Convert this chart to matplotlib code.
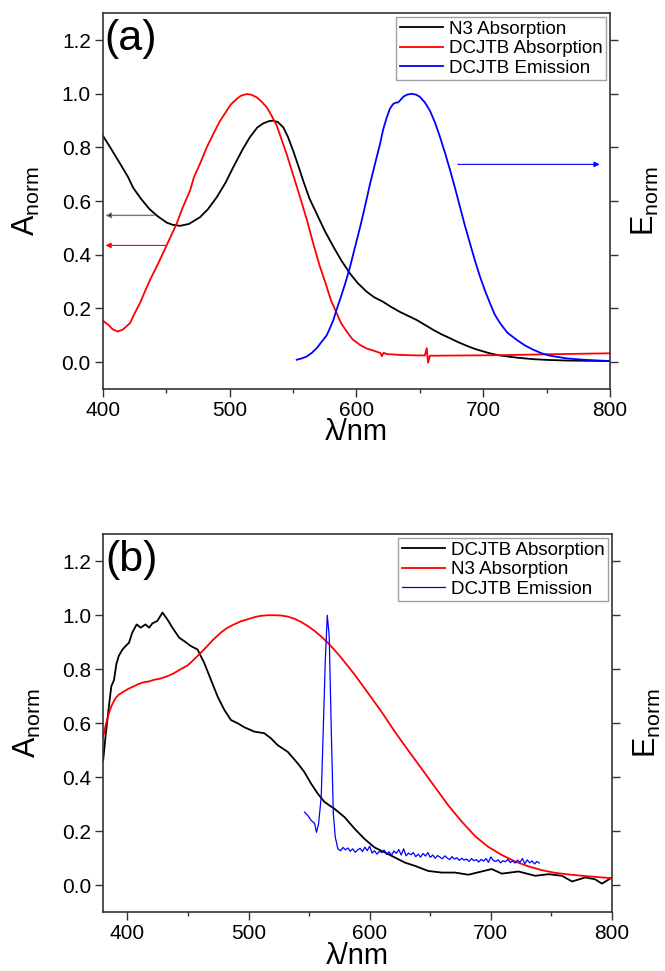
import numpy as np
import matplotlib
matplotlib.use("Agg")
import matplotlib.pyplot as plt
from matplotlib.ticker import MultipleLocator

plt.rcParams['font.family'] = ['Liberation Sans', 'DejaVu Sans']
plt.rcParams['mathtext.fontset'] = 'custom'
plt.rcParams['mathtext.rm'] = 'Liberation Sans'
plt.rcParams['mathtext.default'] = 'regular'

# ---- panel (a) data
a_n3_wl = [400, 406, 413.7, 420, 424, 430, 437, 443, 450.5, 455, 461, 468, 476.7, 483, 490, 497,
           503, 510, 516, 522, 526.7, 531, 534, 538, 542.4, 546, 550, 554, 558, 563, 568.7, 575,
           581.9, 588, 595, 601, 608, 614, 621, 627, 634, 641, 647.6, 654, 660.7, 667, 673.9,
           680, 687, 693, 700, 706, 713, 726, 739.5, 752, 765.8, 800]
a_n3_abs = [0.845, 0.80, 0.74, 0.69, 0.65, 0.61, 0.57, 0.545, 0.52, 0.512, 0.508, 0.515, 0.54,
            0.57, 0.615, 0.67, 0.727, 0.79, 0.838, 0.875, 0.89, 0.898, 0.90, 0.895, 0.875, 0.84,
            0.79, 0.735, 0.677, 0.61, 0.553, 0.49, 0.43, 0.38, 0.33, 0.295, 0.263, 0.242, 0.225,
            0.207, 0.188, 0.172, 0.157, 0.139, 0.12, 0.104, 0.089, 0.075, 0.061, 0.05, 0.040,
            0.032, 0.025, 0.017, 0.011, 0.008, 0.006, 0.004]

a_dcj_wl = [400, 404.5, 408, 412, 416, 421.5, 425, 429.4, 433, 437.3, 444, 450.5, 458.3, 463,
            468.9, 472, 476.7, 482, 487.3, 492, 497.8, 501, 505.7, 509, 513.5, 517, 521.4, 525,
            529.3, 533, 537.2, 541, 545, 550, 555.6, 561, 566, 571, 576.6, 580, 584.5, 588,
            592.4, 597, 602.9, 608, 613.4, 619, 620, 621.5, 624, 634.4, 647.6, 654, 655.5, 656.5,
            658, 660.7, 713, 760, 800]
a_dcj_abs = [0.155, 0.139, 0.122, 0.114, 0.122, 0.145, 0.18, 0.22, 0.26, 0.306, 0.37, 0.436,
             0.516, 0.575, 0.64, 0.69, 0.739, 0.80, 0.851, 0.895, 0.937, 0.96, 0.981, 0.993,
             0.999, 0.997, 0.987, 0.972, 0.95, 0.92, 0.882, 0.83, 0.776, 0.70, 0.615, 0.53,
             0.442, 0.36, 0.281, 0.23, 0.182, 0.145, 0.114, 0.085, 0.064, 0.051, 0.043, 0.034,
             0.022, 0.035, 0.030, 0.027, 0.025, 0.025, 0.052, -0.002, 0.024, 0.024, 0.026, 0.030,
             0.033]

a_em_wl = [553, 557, 560.8, 565, 568.7, 572, 576.6, 579, 581.9, 584, 587, 591, 595, 599, 603,
           607, 610.8, 615, 618.7, 621, 624, 626.5, 629, 631, 633, 635, 637, 640, 643.6, 647,
           650, 654, 658, 662, 666, 670, 673.9, 678, 681.7, 685.5, 689.6, 693.5, 697.5, 701.5,
           705.4, 709, 713.3, 719, 726.4, 733, 739.6, 746, 752.7, 765.8, 778.9, 800]
a_em = [0.009, 0.014, 0.021, 0.035, 0.052, 0.072, 0.10, 0.125, 0.157, 0.19, 0.232, 0.29, 0.355,
        0.43, 0.504, 0.585, 0.665, 0.745, 0.814, 0.865, 0.913, 0.945, 0.962, 0.967, 0.968, 0.978,
        0.989, 0.997, 1.0, 0.997, 0.989, 0.968, 0.937, 0.893, 0.838, 0.778, 0.715, 0.645, 0.578,
        0.51, 0.442, 0.378, 0.318, 0.265, 0.219, 0.178, 0.145, 0.11, 0.083, 0.062, 0.046, 0.033,
        0.024, 0.014, 0.009, 0.004]

# ---- panel (b) data
b_dcj_wl = [380.1, 382, 384.8, 386.8, 389, 391, 393, 396, 398.6, 401.4, 404, 407.7, 411, 415,
            418, 420.7, 424.8, 429, 433, 437.2, 442.8, 447, 452.4, 458, 463.4, 469, 474.5, 480,
            485.5, 491, 496.6, 504.8, 513, 518.6, 524, 532.4, 540.7, 546, 551.7, 557.2, 562.8,
            571, 579.3, 587.6, 595.9, 604, 612.4, 620.7, 629, 637.2, 648.3, 659.3, 670.3, 681.4,
            692.4, 700.7, 709, 722.8, 736.6, 747.6, 758.6, 767, 778, 786, 791.7, 800]
b_dcj_abs = [0.463, 0.55, 0.662, 0.737, 0.76, 0.82, 0.85, 0.873, 0.886, 0.898, 0.935, 0.966,
             0.954, 0.966, 0.954, 0.97, 0.979, 1.01, 0.985, 0.954, 0.917, 0.904, 0.886, 0.873,
             0.824, 0.761, 0.699, 0.65, 0.612, 0.60, 0.585, 0.569, 0.563, 0.544, 0.519, 0.494,
             0.451, 0.42, 0.376, 0.339, 0.308, 0.283, 0.252, 0.209, 0.171, 0.14, 0.122, 0.103,
             0.084, 0.072, 0.053, 0.047, 0.047, 0.039, 0.051, 0.06, 0.043, 0.051, 0.035, 0.041,
             0.035, 0.014, 0.029, 0.022, 0.006, 0.029]

b_n3_wl = [380.1, 382, 384.8, 387, 390.3, 393, 397.2, 401, 405.5, 409, 413.8, 418, 422, 427, 433,
           438, 444, 450, 455, 460, 466, 471, 477, 482, 488, 494, 499.3, 505, 510.3, 516, 521.4,
           527, 532.4, 538, 543.4, 549, 554.5, 560, 565.5, 571, 576.6, 587.6, 598.6, 609.7,
           620.7, 631.7, 642.8, 653.8, 664.8, 675.9, 686.9, 697.9, 709, 720, 731, 742, 753, 764,
           778, 791.7, 800]
b_n3_abs = [0.55, 0.59, 0.637, 0.665, 0.693, 0.706, 0.718, 0.728, 0.737, 0.745, 0.752, 0.755,
            0.761, 0.765, 0.774, 0.784, 0.80, 0.815, 0.836, 0.858, 0.886, 0.91, 0.935, 0.952,
            0.966, 0.978, 0.985, 0.993, 0.998, 1.0, 1.0, 0.999, 0.995, 0.987, 0.975, 0.96, 0.942,
            0.921, 0.898, 0.871, 0.842, 0.78, 0.712, 0.643, 0.569, 0.50, 0.432, 0.364, 0.296,
            0.236, 0.182, 0.142, 0.112, 0.088, 0.07, 0.056, 0.046, 0.04, 0.034, 0.029, 0.026]

b_em_wl = [546.2, 549, 551.7, 554.5, 556.1, 557.8, 560, 561.7, 563.3, 565, 566.6, 568.3, 570,
           571.6, 573.8, 576, 578, 580, 582, 584, 586, 588, 590, 592, 594, 596, 598, 600, 602,
           604, 606, 608, 610, 612, 614, 616, 618, 620, 622, 624, 626, 628, 630, 632, 634, 636,
           638, 640, 642, 644, 646, 648, 650, 652, 654, 656, 658, 660, 662, 664, 666, 668, 670,
           672, 674, 676, 678, 680, 682, 684, 686, 688, 690, 692, 694, 696, 698, 700, 702, 704,
           706, 708, 710, 712, 714, 716, 718, 720, 722, 724, 726, 728, 730, 732, 734, 736, 738, 740]
b_em = [0.271, 0.258, 0.24, 0.23, 0.196, 0.227, 0.327, 0.575, 0.824, 1.0, 0.923, 0.575, 0.265,
        0.178, 0.134, 0.128, 0.140, 0.131, 0.138, 0.126, 0.135, 0.122, 0.130, 0.137, 0.125,
        0.141, 0.128, 0.145, 0.119, 0.128, 0.115, 0.126, 0.121, 0.130, 0.114, 0.124, 0.111,
        0.127, 0.118, 0.132, 0.112, 0.135, 0.109, 0.119, 0.113, 0.121, 0.106, 0.115, 0.104,
        0.118, 0.108, 0.121, 0.103, 0.112, 0.100, 0.110, 0.104, 0.098, 0.109, 0.101, 0.095,
        0.106, 0.097, 0.102, 0.092, 0.100, 0.093, 0.097, 0.088, 0.099, 0.091, 0.095, 0.086,
        0.096, 0.089, 0.099, 0.085, 0.105, 0.092, 0.088, 0.094, 0.083, 0.091, 0.087, 0.096,
        0.084, 0.090, 0.082, 0.093, 0.085, 0.099, 0.080, 0.094, 0.083, 0.090, 0.079, 0.088, 0.082]

yticks = [0.0, 0.2, 0.4, 0.6, 0.8, 1.0, 1.2]


def style_panel(ax, xlim, tag):
    ax.set_xlim(*xlim)
    ax.set_ylim(-0.1, 1.3)
    ax.set_yticks(yticks)
    ax.xaxis.set_major_locator(MultipleLocator(100))
    ax.xaxis.set_minor_locator(MultipleLocator(50))
    ax.tick_params(axis='both', which='major', direction='out', length=5.5, width=1,
                   labelsize=15, pad=3, color='#333333')
    ax.tick_params(axis='x', which='minor', direction='out', length=3, width=1, color='#333333')
    ax.tick_params(top=False)
    for s in ax.spines.values():
        s.set_color('#333333')
        s.set_linewidth(1.2)
    ax.set_xlabel('λ/nm', fontsize=21, labelpad=-1)
    ax.set_ylabel('A$_{norm}$', fontsize=22, labelpad=14)
    ax.text(0.004, 0.985, tag, transform=ax.transAxes, fontsize=31, ha='left', va='top')
    # right axis: ticks only, label E_norm
    ax2 = ax.twinx()
    ax2.set_ylim(-0.1, 1.3)
    ax2.set_yticks(yticks)
    ax2.set_yticklabels([])
    ax2.tick_params(axis='y', direction='out', length=5.5, width=1, color='#333333')
    ax2.set_ylabel('E$_{norm}$', fontsize=22, rotation=90, labelpad=5)
    for s in ax2.spines.values():
        s.set_visible(False)


fig = plt.figure(figsize=(6.65, 9.71), dpi=100)

# ---------- (a)
ax = fig.add_axes([0.1544, 0.5994, 0.763, 0.3869])
ax.plot(a_n3_wl, a_n3_abs, color='black', lw=1.3, label='N3 Absorption')
ax.plot(a_dcj_wl, a_dcj_abs, color='red', lw=1.3, label='DCJTB Absorption')
ax.plot(a_em_wl, a_em, color='blue', lw=1.3, label='DCJTB Emission')
ax.annotate('', xy=(400, 0.547), xytext=(442.6, 0.547),
            arrowprops=dict(arrowstyle='-|>', ec='#777777', fc='black', lw=1.0, mutation_scale=8))
ax.annotate('', xy=(400, 0.435), xytext=(451.8, 0.435),
            arrowprops=dict(arrowstyle='-|>', color='red', lw=0.8, mutation_scale=8))
ax.annotate('', xy=(794, 0.737), xytext=(677.8, 0.737),
            arrowprops=dict(arrowstyle='-|>', color='blue', lw=0.8, mutation_scale=8))
leg = ax.legend(loc='upper right', fontsize=13.5, frameon=True, fancybox=False,
                edgecolor='#888888', handlelength=2.3, handletextpad=0.3,
                labelspacing=0.12, borderpad=0.2, borderaxespad=0.2)
leg.get_frame().set_linewidth(1.0)
style_panel(ax, (400, 800), '(a)')

# ---------- (b)
ax = fig.add_axes([0.155, 0.0605, 0.7654, 0.3893])
ax.plot(b_dcj_wl, b_dcj_abs, color='black', lw=1.3, label='DCJTB Absorption')
ax.plot(b_n3_wl, b_n3_abs, color='red', lw=1.3, label='N3 Absorption')
ax.plot(b_em_wl, b_em, color='blue', lw=0.9, label='DCJTB Emission')
leg = ax.legend(loc='upper right', fontsize=13.5, frameon=True, fancybox=False,
                edgecolor='#888888', handlelength=2.3, handletextpad=0.3,
                labelspacing=0.12, borderpad=0.2, borderaxespad=0.2)
leg.get_frame().set_linewidth(1.0)
style_panel(ax, (380, 800), '(b)')

fig.savefig('out.png', dpi=100)
